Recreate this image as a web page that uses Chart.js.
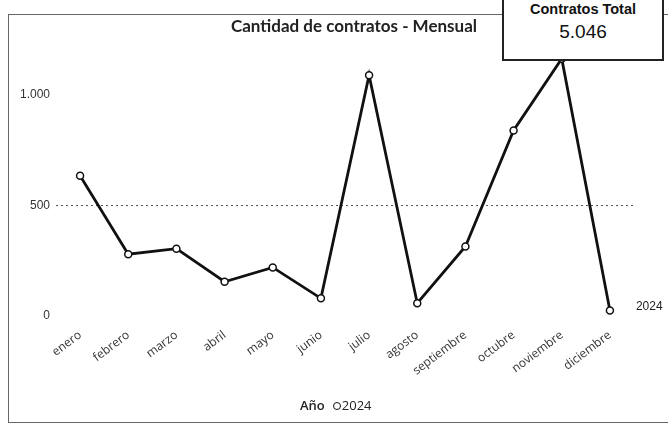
<!DOCTYPE html>
<html lang="es">
<head>
<meta charset="utf-8">
<title>Cantidad de contratos - Mensual</title>
<script src="https://cdn.jsdelivr.net/npm/chart.js@4.4.1/dist/chart.umd.min.js"></script>
<style>
  html, body {
    margin: 0;
    padding: 0;
    background: #fff;
  }
  .wrap {
    position: relative;
    width: 668px;
    height: 428px;
    overflow: hidden;
  }
  .frame {
    position: absolute;
    left: 8px;
    top: 14px;
    width: 680px;
    height: 407px;
    border: 1px solid #666;
    border-right: none;
  }
  canvas {
    position: absolute;
    left: 0;
    top: 0;
  }
  .title {
    position: absolute;
    left: 0;
    width: 708px;
    top: 15px;
    text-align: center;
    font-family: Lato, "Open Sans", sans-serif;
    font-weight: 700;
    font-size: 17px;
    color: #222;
  }
  .total {
    position: absolute;
    left: 502px;
    top: -2px;
    width: 158px;
    height: 59px;
    border: 2px solid #222;
    background: #fff;
    font-family: "Liberation Sans", Arial, sans-serif;
    color: #111;
    text-align: center;
  }
  .total .head {
    font-weight: bold;
    font-size: 14.5px;
    margin-top: 1px;
  }
  .total .num {
    font-size: 19px;
    margin-top: 4px;
  }
  .legend {
    position: absolute;
    left: 300px;
    top: 396px;
    font-family: "Open Sans", sans-serif;
    font-size: 13px;
    color: #222;
    white-space: nowrap;
  }
  .legend b {
    font-weight: 600;
    margin-right: 8px;
  }
  .legend .dot {
    display: inline-block;
    width: 6px;
    height: 6px;
    border: 1.5px solid #111;
    border-radius: 50%;
    margin-right: 1px;
    vertical-align: 0px;
  }
</style>
</head>
<body>
<div class="wrap">
  <div class="frame"></div>
  <canvas id="contratos" width="668" height="428"></canvas>
  <div class="title">Cantidad de contratos - Mensual</div>
  <div class="total">
    <div class="head">Contratos Total</div>
    <div class="num">5.046</div>
  </div>
  <div class="legend"><b>Año</b><span class="dot"></span>2024</div>
</div>

<script>
const meses = ['enero', 'febrero', 'marzo', 'abril', 'mayo', 'junio', 'julio',
  'agosto', 'septiembre', 'octubre', 'noviembre', 'diciembre'];
const contratos2024 = [635, 280, 305, 155, 220, 80, 1090, 58, 315, 840, 1165, 25];
const yTicks = [0, 500, 1000];
const serie = '2024';

// miles con punto: 1000 -> 1.000
const fmt = v => String(v).replace(/\B(?=(\d{3})+(?!\d))/g, '.');

// nombre de la serie junto al último punto
const etiquetaSerie = {
  id: 'etiquetaSerie',
  afterDatasetsDraw(chart) {
    const meta = chart.getDatasetMeta(0);
    const last = meta.data[meta.data.length - 1];
    if (!last) return;
    const ctx = chart.ctx;
    ctx.save();
    ctx.font = '12px "Liberation Sans", Arial, sans-serif';
    ctx.fillStyle = '#222';
    ctx.textAlign = 'left';
    ctx.textBaseline = 'middle';
    ctx.fillText(serie, last.x + 26, last.y - 4);
    ctx.restore();
  }
};

new Chart(document.getElementById('contratos'), {
  type: 'line',
  data: {
    labels: meses,
    datasets: [{
      label: serie,
      data: contratos2024,
      borderColor: '#111',
      borderWidth: 2.8,
      tension: 0,
      pointRadius: 3.5,
      pointBorderWidth: 1.5,
      pointBackgroundColor: '#fff',
      pointBorderColor: '#111'
    }]
  },
  options: {
    responsive: false,
    animation: false,
    layout: {
      padding: { left: 8, right: 34, top: 51, bottom: 40 }
    },
    plugins: {
      legend: { display: false },
      tooltip: { enabled: false },
      title: { display: false }
    },
    scales: {
      x: {
        offset: true,
        grid: { display: false },
        border: { display: false },
        afterFit(scale) { scale.height = 72; },
        ticks: {
          autoSkip: false,
          minRotation: 37,
          maxRotation: 37,
          padding: 4,
          color: '#333',
          font: { family: '"Open Sans", sans-serif', size: 12 }
        }
      },
      y: {
        min: 0,
        max: 1200,
        afterFit(scale) { scale.width = 48; },
        afterBuildTicks(scale) {
          scale.ticks = yTicks.map(v => ({ value: v }));
        },
        border: { display: false, dash: [2, 3] },
        grid: {
          drawTicks: false,
          color: ctx => ctx.tick && ctx.tick.value === 500 ? '#555' : 'rgba(0,0,0,0)',
          lineWidth: 1
        },
        ticks: {
          padding: 6,
          color: '#333',
          font: { family: '"Liberation Sans", Arial, sans-serif', size: 12 },
          callback: v => fmt(v)
        }
      }
    }
  },
  plugins: [etiquetaSerie]
});
</script>
</body>
</html>
